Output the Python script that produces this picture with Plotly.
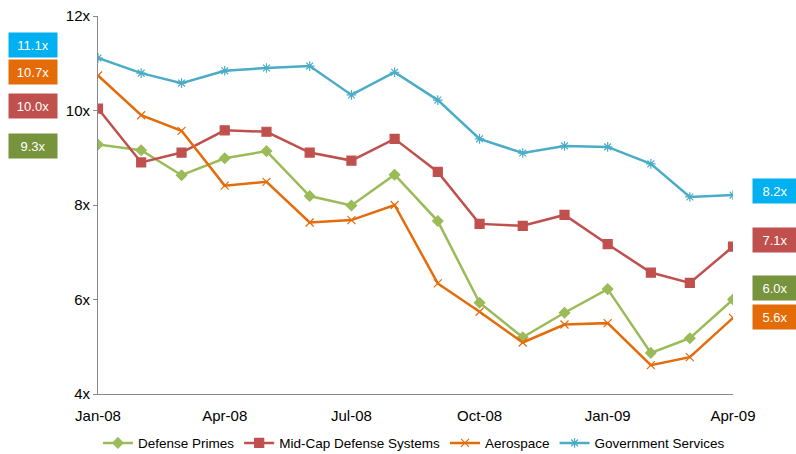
import pandas as pd
import plotly.graph_objects as go

# monthly EV/EBITDA multiples, Jan-08 .. Apr-09
months = pd.date_range("2008-01-01", "2009-04-01", freq="MS")

defense_primes = [9.28, 9.16, 8.63, 8.99, 9.14, 8.19, 7.99, 8.64,
                  7.66, 5.93, 5.20, 5.72, 6.22, 4.87, 5.18, 6.00]
mid_cap = [10.04, 8.90, 9.11, 9.58, 9.55, 9.11, 8.94, 9.40,
           8.70, 7.60, 7.56, 7.79, 7.17, 6.57, 6.35, 7.12]
aerospace = [10.74, 9.90, 9.57, 8.41, 8.49, 7.63, 7.68, 8.00,
             6.34, 5.74, 5.09, 5.47, 5.50, 4.61, 4.78, 5.61]
gov_services = [11.11, 10.79, 10.58, 10.84, 10.90, 10.94, 10.33, 10.81,
                10.22, 9.40, 9.10, 9.25, 9.23, 8.87, 8.17, 8.21]

series = [
    ("Defense Primes", defense_primes, "#9BBB59", "diamond", "#77933C"),
    ("Mid-Cap Defense Systems", mid_cap, "#C0504D", "square", "#C0504D"),
    ("Aerospace", aerospace, "#E46C0A", "x-thin-open", "#E36C09"),
    ("Government Services", gov_services, "#4BACC6", "asterisk-open", "#00B0F0"),
]

# label box positions (paper coords): start values on the left, end values on the right
left_pos = {"Government Services": 0.923, "Aerospace": 0.852,
            "Mid-Cap Defense Systems": 0.762, "Defense Primes": 0.656}
right_pos = {"Government Services": 0.537, "Mid-Cap Defense Systems": 0.407,
             "Defense Primes": 0.280, "Aerospace": 0.204}

fig = go.Figure()
annotations = []
for name, vals, color, symbol, box in series:
    fig.add_trace(go.Scatter(
        x=months, y=vals, name=name, mode="lines+markers",
        line=dict(color=color, width=2.5),
        marker=dict(symbol=symbol, size=8 if symbol != "square" else 9, color=color,
                    line=dict(color=color, width=1.2)),
    ))
    for xp, yp, v, w in [(-0.1025, left_pos[name], vals[0], 46),
                         (1.0665, right_pos[name], vals[-1], 42)]:
        annotations.append(dict(
            x=xp, y=yp, xref="paper", yref="paper", xanchor="center", yanchor="middle",
            text=f"{v:.1f}x", showarrow=False, bgcolor=box, width=w, height=22,
            font=dict(color="white", size=13, family="Liberation Sans, Arial"),
        ))

fig.update_layout(
    width=796, height=454,
    margin=dict(l=98, r=63, t=16, b=60),
    plot_bgcolor="white", paper_bgcolor="white",
    font=dict(family="Liberation Sans, Arial", size=15, color="#000"),
    showlegend=True,
    legend=dict(orientation="h", x=0.52, xanchor="center", xref="container",
                y=0.024, yanchor="middle", yref="container",
                font=dict(size=13.5), itemwidth=30, tracegroupgap=0),
    annotations=annotations,
    xaxis=dict(
        range=[months[0], months[-1]], tickformat="%b-%y", dtick="M3",
        tick0=months[0], showgrid=False, zeroline=False, automargin=False,
        showline=True, linecolor="#888", linewidth=1, ticks="", ticklabelstandoff=8,
    ),
    yaxis=dict(
        range=[4, 12], dtick=2, ticksuffix="x", showgrid=False, zeroline=False,
        automargin=False, showline=True, linecolor="#888", linewidth=1,
        ticks="outside", ticklen=4, tickcolor="#888",
    ),
)

# drop the browser's default body margin so the figure sits at the page origin
fig.write_html("out.html", config={"displayModeBar": False},
               post_script="document.body.style.margin='0';")
